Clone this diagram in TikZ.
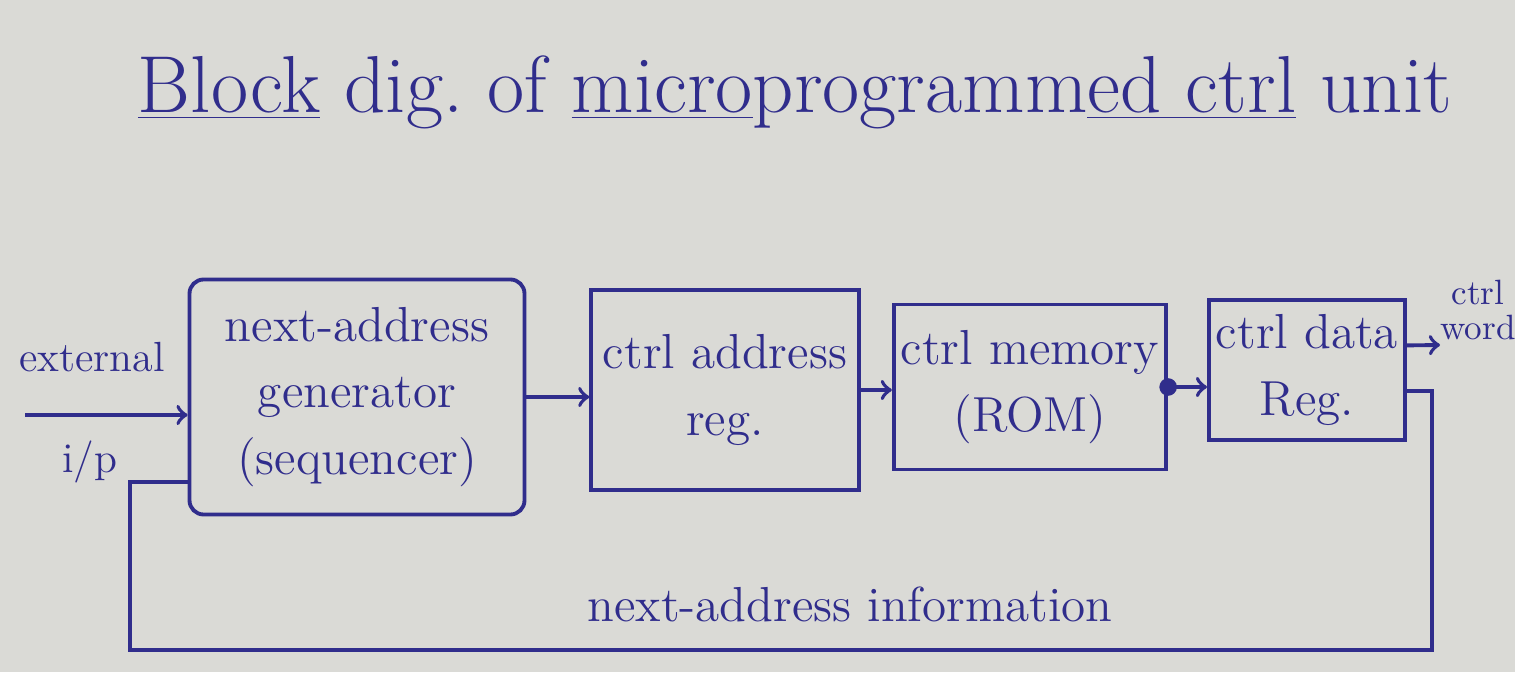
\documentclass[tikz,border=0pt]{standalone}
\usepackage{tikz}
\usetikzlibrary{calc}
\definecolor{ink}{RGB}{48,45,140}
\definecolor{paper}{RGB}{218,218,214}

\begin{document}
\begin{tikzpicture}[scale=1.0, font=\fontsize{14}{19}\selectfont, line width=1.1pt]
  \fill[paper] (0,0) rectangle (15.15,6.72);
  \useasboundingbox (0,0) rectangle (15.15,6.72);

  % title
  \node[ink, font=\fontsize{23}{27}\selectfont] (T) at (7.95,5.8)
    {\underline{Block} dig.\ of \underline{micro}programm\underline{ed ctrl} unit};

  % the four blocks
  \node[draw=ink, text=ink, align=center, minimum width=3.35cm, minimum height=2.35cm,
        rounded corners=4pt] (G) at (3.57,2.75) {next-address\\generator\\(sequencer)};
  \node[draw=ink, text=ink, align=center, minimum width=2.5cm, minimum height=2.0cm]
        (A) at (7.25,2.82) {ctrl address\\reg.};
  \node[draw=ink, text=ink, align=center, inner xsep=2pt, minimum width=2.5cm, minimum height=1.65cm]
        (M) at (10.3,2.85) {ctrl memory\\(ROM)};
  \node[draw=ink, text=ink, align=center, inner xsep=2pt, minimum width=1.8cm, minimum height=1.4cm]
        (D) at (13.07,3.02) {ctrl data\\Reg.};

  % external input
  \coordinate (ext) at (0.25,2.57);
  \draw[->, ink] (ext) -- (ext -| G.west);
  \node[ink, font=\fontsize{12}{14}\selectfont] (extlbl) at (0.92,3.15) {external};
  \node[ink, font=\fontsize{12}{14}\selectfont] (iplbl) at (0.9,2.1) {i/p};

  % block to block
  \draw[->, ink] (G.east) -- (G.east -| A.west);
  \draw[->, ink] (A.east) -- (A.east -| M.west);
  \fill[ink] (M.east) circle (2.5pt);
  \draw[->, ink] (M.east) -- (M.east -| D.west);

  % ctrl word out
  \coordinate (cw) at (14.4,3.27);
  \draw[->, ink] ([yshift=7pt]D.east) -- (cw);
  \node[ink, align=center, font=\fontsize{10}{10}\selectfont] (cwlbl) at (14.78,3.62) {ctrl\\word};

  % next-address feedback
  \coordinate (fbl) at (1.3,0.22);
  \draw[ink] ([yshift=-6pt]D.east) -- ++(0.25,0) |- (fbl) |- ([yshift=-0.85cm]G.west);
  \node[ink] (nai) at (8.5,0.68) {next-address information};
\end{tikzpicture}
\end{document}
